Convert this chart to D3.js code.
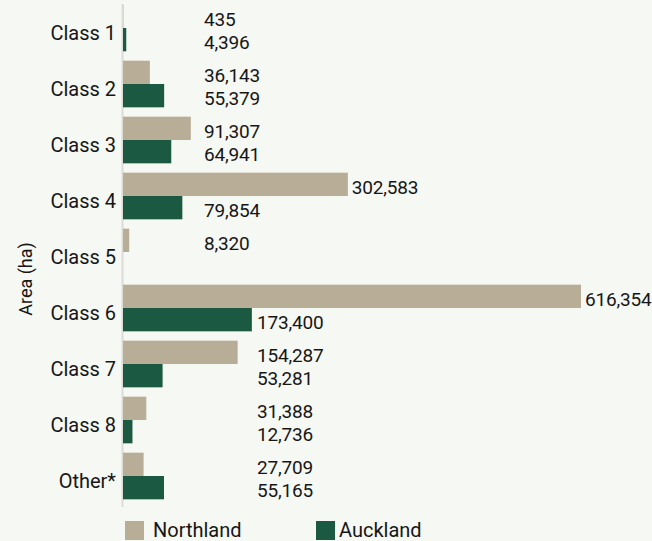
<!DOCTYPE html>
<html>
<head>
<meta charset="utf-8">
<script src="https://cdn.jsdelivr.net/npm/d3@7/dist/d3.min.js"></script>
<style>
  body { margin: 0; background: #f6f8f3; }
  svg { display: block; }
  text { font-family: Roboto, "Noto Sans", sans-serif; fill: #161616; }
</style>
</head>
<body>
<svg width="652" height="541"></svg>
<script>
// categorie e valori (ettari)
var classes = ['Class 1', 'Class 2', 'Class 3', 'Class 4', 'Class 5', 'Class 6', 'Class 7', 'Class 8', 'Other*']
var northland = [435, 36143, 91307, 302583, 8320, 616354, 154287, 31388, 27709]
var auckland = [4396, 55379, 64941, 79854, 0, 173400, 53281, 12736, 55165]
var seriesNames = ['Northland', 'Auckland']
var colors = ['#b8ad97', '#1b5943']

var svg = d3.select('svg')

var x = d3.scaleLinear()
  .domain([0, d3.max(northland)])
  .range([123, 581])

var y = d3.scaleBand()
  .domain(classes)
  .range([0, 504])
  .paddingInner(1/6)
  .paddingOuter(1/12)

var sub = d3.scaleBand()
  .domain(seriesNames)
  .range([0, y.bandwidth()])

// linea asse
svg.append('line')
  .attr('x1', 122.5).attr('x2', 122.5)
  .attr('y1', 4).attr('y2', 507)
  .attr('stroke', '#dcdcd8')
  .attr('stroke-width', 2)

var rows = classes.map(function(c, i){
  return {cls: c, i: i, vals: [northland[i], auckland[i]]}
})

var groups = svg.selectAll('g.row')
  .data(rows)
  .enter()
  .append('g')
  .attr('class', 'row')
  .attr('transform', function(d){ return 'translate(0,' + y(d.cls) + ')' })

// barre
groups.selectAll('rect')
  .data(function(d){ return d.vals.map(function(v, k){ return {v: v, k: k, i: d.i} }) })
  .enter()
  .append('rect')
  .attr('x', x(0))
  .attr('y', function(d){ return sub(seriesNames[d.k]) })
  .attr('height', sub.bandwidth())
  .attr('width', function(d){ return Math.max(0, x(d.v) - x(0)) })
  .attr('fill', function(d){ return colors[d.k] })

// etichette valori (minimo di posizione diverso per le due metà)
groups.selectAll('text.val')
  .data(function(d){ return d.vals.map(function(v, k){ return {v: v, k: k, i: d.i} }) })
  .enter()
  .filter(function(d){ return d.v > 0 })
  .append('text')
  .attr('class', 'val')
  .attr('x', function(d){
    var minX = d.i < 5 ? 204 : 257
    return Math.max(x(d.v) + 4, minX)
  })
  .attr('y', function(d){ return sub(seriesNames[d.k]) + sub.bandwidth() / 2 })
  .attr('dy', '0.5em')
  .attr('font-size', '19px')
  .attr('letter-spacing', '-0.2px')
  .text(function(d){ return d3.format(',')(d.v) })

// etichette categorie
groups.append('text')
  .attr('x', 116)
  .attr('y', y.bandwidth() / 2)
  .attr('dy', '0.6em')
  .attr('text-anchor', 'end')
  .attr('font-size', '20px')
  .text(function(d){ return d.cls })

// titolo asse y
svg.append('text')
  .attr('transform', 'translate(32,279) rotate(-90)')
  .attr('text-anchor', 'middle')
  .attr('font-size', '18px')
  .text('Area (ha)')

// legenda
var legend = svg.selectAll('g.legend')
  .data(seriesNames)
  .enter()
  .append('g')
  .attr('class', 'legend')
  .attr('transform', function(d, i){ return 'translate(' + (i === 0 ? 125 : 316) + ',521)' })

legend.append('rect')
  .attr('width', 19).attr('height', 19)
  .attr('fill', function(d, i){ return colors[i] })

legend.append('text')
  .attr('x', function(d, i){ return i === 0 ? 28 : 23 })
  .attr('y', 15.5)
  .attr('font-size', '20px')
  .text(function(d){ return d })
</script>
</body>
</html>
